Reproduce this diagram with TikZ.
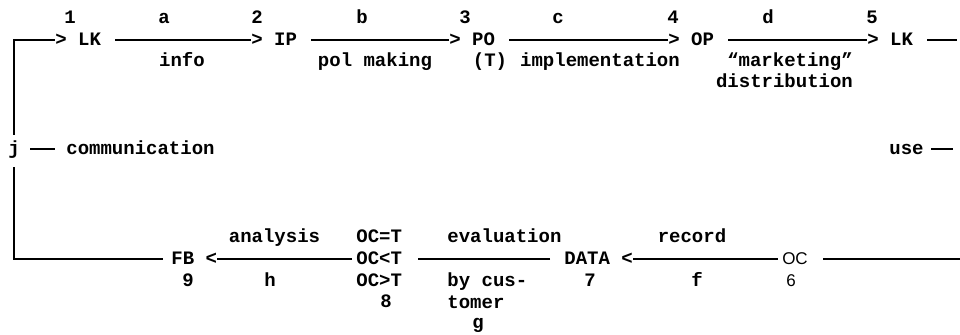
\documentclass[tikz,border=0pt]{standalone}
\usepackage{fontspec}
\newfontfamily\cour{Liberation Mono}
\newfontfamily\arialf{Liberation Sans}
\begin{document}
\begin{tikzpicture}[x=0.5pt,y=-0.5pt,
  t/.style={font=\cour\bfseries\fontsize{9.5pt}{11pt}\selectfont, inner sep=0pt, text height=7pt, text depth=1pt, anchor=base},
  tw/.style={t, anchor=base west},
  sans/.style={font=\arialf\fontsize{8.5pt}{10pt}\selectfont, inner sep=0pt, text height=7pt, text depth=1pt, anchor=base},
  ln/.style={line width=0.9pt}]
\useasboundingbox (0,0) rectangle (960,335);
% top row
\node[tw] (n1) at (55,46) {> LK};
\node[tw] (n2) at (251,46) {> IP};
\node[tw] (n3) at (449,46) {> PO};
\node[tw] (n4) at (668,46) {> OP};
\node[tw] (n5) at (867,46) {> LK};
\coordinate (rend) at (957,40);
\draw[ln, shorten <=7pt] (n1.east) -- (n2.west);
\draw[ln, shorten <=7pt] (n2.east) -- (n3.west);
\draw[ln, shorten <=7pt] (n3.east) -- (n4.west);
\draw[ln, shorten <=7pt] (n4.east) -- (n5.west);
\draw[ln, shorten <=7pt] (n5.east) -- (rend);
% top labels
\node[t] (l1) at (70,24) {1};
\node[t] (la) at (164,24) {a};
\node[t] (l2) at (257,24) {2};
\node[t] (lb) at (362,24) {b};
\node[t] (l3) at (465,24) {3};
\node[t] (lc) at (558,24) {c};
\node[t] (l4) at (673,24) {4};
\node[t] (ld) at (768,24) {d};
\node[t] (l5) at (872,24) {5};
\node[t] (info) at (182,67) {info};
\node[t] (pol) at (375,67) {pol making};
\node[t] (tt) at (490,67) {(T)};
\node[t] (impl) at (600,67) {implementation};
\node[t] (mark) at (790,67) {“marketing”};
\node[t] (dist) at (784.5,88) {distribution};
% middle
\node[t] (j) at (14,155) {j};
\node[tw] (comm) at (66,155) {communication};
\draw[ln, shorten <=5pt, shorten >=5.5pt] (j.east) -- (comm.west);
\node[tw] (use) at (889,155) {use};
\coordinate (useend) at (953,149);
\draw[ln, shorten <=3.5pt] (use.east) -- (useend);
% bottom row
\node[tw] (fb) at (171,265) {FB <};
\node[tw] (oc8) at (356,265) {OC<T};
\node[tw] (data) at (564,265) {DATA <};
\node[sans] (oc6) at (795,265) {OC};
\coordinate (bend) at (960,259);
\draw[ln, shorten <=3pt] (j.north) |- (n1.west);
\draw[ln, shorten <=5pt, shorten >=4pt] (j.south) |- (fb.west);
\draw[ln, shorten <=2pt] (oc8.west) -- (fb.east);
\draw[ln, shorten <=7pt, shorten >=7.7pt] (data.west) -- (oc8.east);
\draw[ln, shorten <=2pt] (oc6.west) -- (data.east);
\draw[ln, shorten <=7.5pt] (oc6.east) -- (bend);
% bottom labels
\node[t] (anal) at (274.5,243) {analysis};
\node[t] (l9) at (188,287) {9};
\node[t] (lh) at (270,287) {h};
\node[tw] (oceq) at (356,243) {OC=T};
\node[tw] (ocgt) at (356,287) {OC>T};
\node[t] (l8) at (386,308) {8};
\node[tw] (eval) at (447,243) {evaluation};
\node[tw] (bycus) at (447,287) {by cus-};
\node[tw] (tomer) at (447,309) {tomer};
\node[t] (lg) at (478,329) {g};
\node[t] (l7) at (590,287) {7};
\node[t] (rec) at (692,243) {record};
\node[t] (lf) at (697,287) {f};
\node[sans] (l6) at (791,287) {6};
\end{tikzpicture}
\end{document}
